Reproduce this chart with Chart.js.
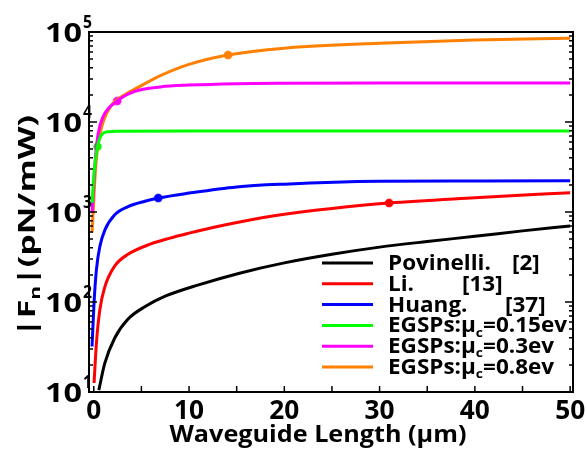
<!DOCTYPE html>
<html>
<head>
<meta charset="utf-8">
<script src="https://cdn.jsdelivr.net/npm/chart.js@4.4.0/dist/chart.umd.min.js"></script>
<style>
  html, body { margin: 0; padding: 0; background: #fff; }
  canvas { display: block; }
</style>
</head>
<body>
<canvas id="chart" width="587" height="454"></canvas>
<script>
// values (x in um, y in pN/mW)
const povX = [0.53, 1.16, 2.2, 3.6, 5.4, 7.5, 11, 15.3, 20, 25, 30, 35, 40, 45, 50];
const povY = [10.5, 20.9, 39.8, 64.6, 89.1, 116, 155, 209, 272, 339, 407, 470, 537, 617, 700];

const liX = [0.03, 0.28, 0.63, 1.16, 2.2, 3.6, 6, 8, 10, 12.5, 15.3, 20, 25, 31, 40, 50];
const liY = [12.6, 35, 81, 147, 251, 339, 442, 513, 582, 673, 776, 944, 1096, 1259, 1439, 1641];

const huangX = [-0.18, 0.03, 0.28, 0.63, 1.16, 2.2, 3.6, 5.37, 6.77, 10, 15, 20, 30, 40, 50];
const huangY = [32, 98, 229, 410, 630, 930, 1150, 1318, 1430, 1622, 1900, 2040, 2190, 2210, 2220];

const g015X = [-0.18, 0.03, 0.39, 0.81, 1.5, 2.5, 10, 50];
const g015Y = [1260, 2690, 5330, 7190, 7800, 7910, 7940, 7940];

const g03X = [-0.18, 0, 0.18, 0.46, 0.98, 2.46, 4.3, 7, 10, 15, 20, 30, 50];
const g03Y = [977, 2089, 4074, 7413, 11482, 17100, 21878, 24547, 25704, 26669, 26977, 27100, 27100];

const g08X = [-0.18, 0, 0.18, 0.46, 0.98, 1.86, 2.9, 4.74, 7, 10, 14.1, 20, 30, 40, 50];
const g08Y = [589, 1349, 2951, 5754, 10000, 15488, 19055, 24547, 32734, 43652, 55463, 66069, 74989, 81283, 85114];

// one highlighted point per curve (Li, Huang, 0.15ev, 0.3ev, 0.8ev)
const markX = [31, 6.77, 0.39, 2.46, 14.1];
const markY = [1259, 1430, 5330, 17100, 55463];

const xTicks = [0, 10, 20, 30, 40, 50];
const xMinorTicks = [5, 15, 25, 35, 45];
const yDecades = [1, 2, 3, 4, 5];

const legendNames = ['Povinelli.', 'Li.', 'Huang.', 'EGSPs:\u03bc', 'EGSPs:\u03bc', 'EGSPs:\u03bc'];
const legendSub = ['', '', '', 'c', 'c', 'c'];
const legendTail = ['', '', '', '=0.15ev', '=0.3ev', '=0.8ev'];
const legendRefs = ['[2]', '[13]', '[37]', '', '', ''];

const colors = ['#000000', '#ff0000', '#0000ff', '#00ff00', '#ff00ff', '#ff8000'];
const markColors = ['#ff0000', '#0000ff', '#00ff00', '#ff00ff', '#ff8000'];
const refPos = [512, 462, 505];

const FONT = '"Open Sans", sans-serif';

const series = [
  [povX, povY], [liX, liY], [huangX, huangY],
  [g015X, g015Y], [g03X, g03Y], [g08X, g08Y]
];

const lineSets = series.map(([xs, ys], i) => ({
  type: 'line',
  data: xs.map((x, j) => ({ x, y: ys[j] })),
  borderColor: colors[i],
  borderWidth: 3,
  pointRadius: 0,
  fill: false,
  cubicInterpolationMode: 'monotone'
}));

const markSets = markX.map((x, i) => ({
  type: 'scatter',
  data: [{ x, y: markY[i] }],
  pointRadius: 4.5,
  pointBackgroundColor: markColors[i],
  pointBorderColor: 'rgba(255,255,255,0.5)',
  pointBorderWidth: 1
}));

// draw text squeezed/stretched to a given width
function fitText(ctx, text, x, y, size, width, align) {
  ctx.font = 'bold ' + size + 'px ' + FONT;
  const w = ctx.measureText(text).width;
  const sx = width ? width / w : 1;
  ctx.save();
  ctx.translate(x, y);
  ctx.scale(sx, 1);
  ctx.textAlign = align || 'left';
  ctx.textBaseline = 'alphabetic';
  ctx.fillText(text, 0, 0);
  ctx.restore();
}

// text with subscript pieces
function richWidth(ctx, parts, size) {
  let w = 0;
  parts.forEach(p => {
    ctx.font = 'bold ' + (p.sub ? size * 0.62 : size) + 'px ' + FONT;
    w += ctx.measureText(p.t).width;
  });
  return w;
}
function drawRich(ctx, parts, x, y, size, sx) {
  ctx.save();
  ctx.translate(x, y);
  ctx.scale(sx, 1);
  ctx.textAlign = 'left';
  ctx.textBaseline = 'alphabetic';
  let cx = 0;
  parts.forEach(p => {
    const s = p.sub ? size * 0.62 : size;
    ctx.font = 'bold ' + s + 'px ' + FONT;
    ctx.fillText(p.t, cx, p.sub ? size * 0.2 : 0);
    cx += ctx.measureText(p.t).width;
  });
  ctx.restore();
}

const framePlugin = {
  id: 'frame',
  afterDraw(chart) {
    const ctx = chart.ctx;
    const { left, right, top, bottom } = chart.chartArea;
    const xs = chart.scales.x, ys = chart.scales.y;
    ctx.save();
    ctx.strokeStyle = '#000';
    ctx.fillStyle = '#000';
    ctx.lineWidth = 2;
    ctx.strokeRect(left, top, right - left, bottom - top);

    // inward ticks
    ctx.lineWidth = 1.5;
    ctx.beginPath();
    yDecades.forEach(d => {
      const base = Math.pow(10, d);
      const py = ys.getPixelForValue(base);
      ctx.moveTo(left, py); ctx.lineTo(left + 8, py);
      ctx.moveTo(right, py); ctx.lineTo(right - 8, py);
      if (d < 5) {
        for (let m = 2; m <= 9; m++) {
          const my = ys.getPixelForValue(base * m);
          ctx.moveTo(left, my); ctx.lineTo(left + 4, my);
          ctx.moveTo(right, my); ctx.lineTo(right - 4, my);
        }
      }
    });
    xTicks.concat(xMinorTicks).forEach(v => {
      const px = xs.getPixelForValue(v);
      ctx.moveTo(px, bottom); ctx.lineTo(px, bottom - 6);
    });
    ctx.stroke();

    // y tick labels 10^n
    yDecades.forEach(d => {
      const py = ys.getPixelForValue(Math.pow(10, d));
      fitText(ctx, '10', 82, py + 10, 27, 37, 'right');
      fitText(ctx, String(d), 83, py - 4, 18, 9, 'left');
    });

    // x tick labels
    xTicks.forEach(v => {
      const px = xs.getPixelForValue(v);
      const s = String(v);
      fitText(ctx, s, px, 419, 27, 15 * s.length, 'center');
    });

    // x title
    fitText(ctx, 'Waveguide Length (\u03bcm)', 318, 442, 24, 297, 'center');

    // y title, rotated
    const yParts = [{ t: '|F' }, { t: 'n', sub: true }, { t: '|(pN/mW)' }];
    const ysize = 24;
    const ysx = 222 / richWidth(ctx, yParts, ysize);
    ctx.save();
    ctx.translate(35, 226);
    ctx.rotate(-Math.PI / 2);
    drawRich(ctx, yParts, -111, 0, ysize, ysx);
    ctx.restore();

    // legend
    const lsize = 20.5;
    const refParts = [{ t: legendNames[3] }, { t: legendSub[3], sub: true }, { t: legendTail[3] }];
    const lsx = 179 / richWidth(ctx, refParts, lsize);
    const rowY = [263, 283.8, 304.6, 325.4, 346.2, 367];
    rowY.forEach((ry, i) => {
      ctx.strokeStyle = colors[i];
      ctx.lineWidth = 3;
      ctx.beginPath();
      ctx.moveTo(322, ry); ctx.lineTo(373, ry);
      ctx.stroke();
      const parts = [{ t: legendNames[i] }];
      if (legendSub[i]) parts.push({ t: legendSub[i], sub: true });
      if (legendTail[i]) parts.push({ t: legendTail[i] });
      drawRich(ctx, parts, 388, ry + 7, lsize, lsx);
      if (legendRefs[i]) drawRich(ctx, [{ t: legendRefs[i] }], refPos[i], ry + 7, lsize, lsx);
    });
    ctx.restore();
  }
};

new Chart(document.getElementById('chart'), {
  data: { datasets: lineSets.concat(markSets) },
  options: {
    responsive: false,
    devicePixelRatio: 1,
    animation: false,
    layout: { padding: { top: 32, right: 14, left: 0, bottom: 0 } },
    plugins: { legend: { display: false }, tooltip: { enabled: false } },
    scales: {
      x: {
        type: 'linear',
        min: -0.5,
        max: 50.3,
        grid: { display: false },
        border: { display: false },
        ticks: { display: false },
        afterFit(scale) { scale.height = 62; }
      },
      y: {
        type: 'logarithmic',
        min: 10,
        max: 100000,
        grid: { display: false },
        border: { display: false },
        ticks: { display: false },
        afterFit(scale) { scale.width = 89; }
      }
    }
  },
  plugins: [framePlugin]
});
</script>
</body>
</html>
